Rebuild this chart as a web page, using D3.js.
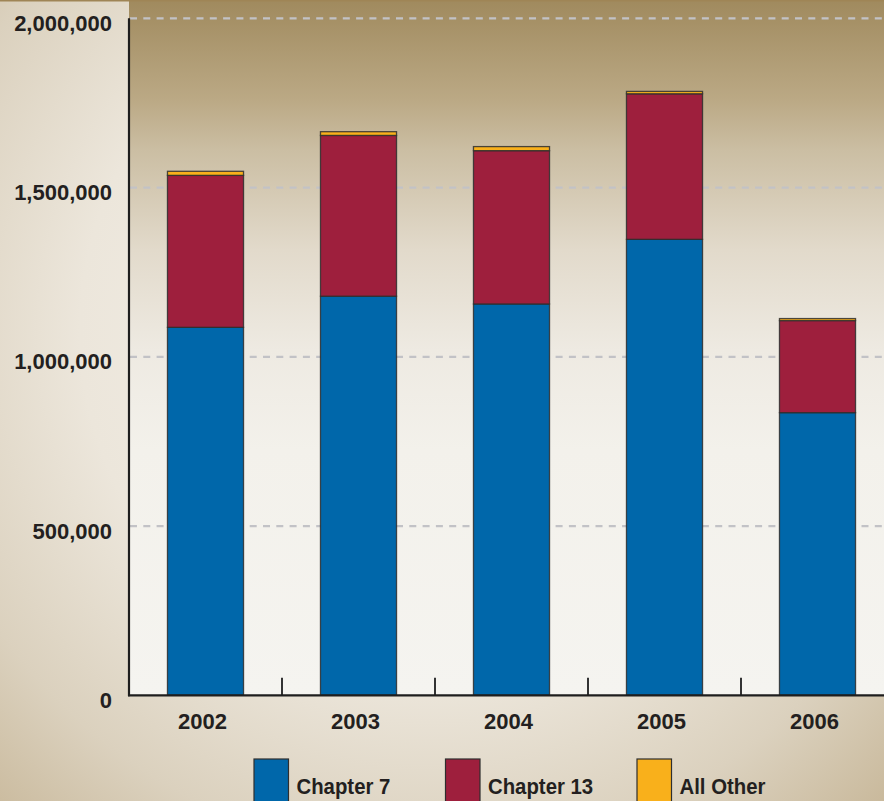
<!DOCTYPE html>
<html>
<head>
<meta charset="utf-8">
<script src="https://cdn.jsdelivr.net/npm/d3@7"></script>
<style>
  body { margin: 0; background: #d8cdb8; }
  svg { display: block; }
</style>
</head>
<body>
<svg id="chart" width="884" height="801"></svg>
<script>
// Bankruptcy filings by chapter, fiscal years 2002-2006
const years = ["2002", "2003", "2004", "2005", "2006"];
const chapter7 = [1087000, 1179000, 1156000, 1347000, 835000];
const chapter13 = [449000, 475000, 453000, 430000, 272000];
const allOther = [12000, 11000, 12000, 7000, 6000];
const yTicks = [0, 500000, 1000000, 1500000, 2000000];
const seriesNames = ["Chapter 7", "Chapter 13", "All Other"];
const seriesColors = ["#0067aa", "#9e1f3d", "#f9b01b"];

const W = 884, H = 801;
const plot = { left: 129, right: 884, top: 18.3, bottom: 695.3 };
const FONT = "'Liberation Sans', Arial, Helvetica, sans-serif";
const INK = "#231f20";

const svg = d3.select("#chart");
const defs = svg.append("defs");

// Page background: soft radial glow
const rg = defs.append("radialGradient").attr("id", "pageBg")
  .attr("gradientUnits", "userSpaceOnUse")
  .attr("cx", 430).attr("cy", 330).attr("r", 700);
[[0, "#f6f3ee"], [0.5, "#ece6db"], [0.75, "#dbd1be"], [1, "#c3b190"]]
  .forEach(([o, c]) => rg.append("stop").attr("offset", o).attr("stop-color", c));

// Plot background: brown at top fading to off-white
const lg = defs.append("linearGradient").attr("id", "plotBg")
  .attr("gradientUnits", "userSpaceOnUse")
  .attr("x1", 0).attr("y1", 0).attr("x2", 0).attr("y2", plot.bottom);
[[0, "#a08a5e"], [100, "#bba985"], [150, "#cbbea3"], [250, "#e2dacb"],
 [350, "#eeeae2"], [450, "#f3f1eb"], [695, "#f5f4f0"]]
  .forEach(([y, c]) => lg.append("stop").attr("offset", y / plot.bottom).attr("stop-color", c));

svg.append("rect").attr("width", W).attr("height", H).attr("fill", "url(#pageBg)");
svg.append("rect")
  .attr("x", plot.left).attr("y", 0)
  .attr("width", plot.right - plot.left).attr("height", plot.bottom)
  .attr("fill", "url(#plotBg)");
svg.append("rect").attr("x", 0).attr("y", 0).attr("width", W).attr("height", 1.5)
  .attr("fill", "#9f8556");

// Scales
const x = d3.scaleBand().domain(years)
  .range([plot.left, plot.left + 153 * years.length])
  .paddingInner(0.503).paddingOuter(0.2515);
const y = d3.scaleLinear().domain([0, 2000000]).range([plot.bottom, plot.top]);

// Gridlines
svg.append("g").selectAll("line")
  .data(yTicks.filter(d => d > 0))
  .join("line")
  .attr("x1", plot.left + 1).attr("x2", plot.right)
  .attr("y1", d => y(d)).attr("y2", d => y(d))
  .attr("stroke", "#c2c2c6").attr("stroke-width", 2.2)
  .attr("stroke-dasharray", "7,6.3");

// Stacked bars
const table = years.map((yr, i) => ({
  year: yr,
  "Chapter 7": chapter7[i],
  "Chapter 13": chapter13[i],
  "All Other": allOther[i]
}));
const stacked = d3.stack().keys(seriesNames)(table);
const color = d3.scaleOrdinal().domain(seriesNames).range(seriesColors);

svg.append("g").selectAll("g")
  .data(stacked)
  .join("g")
  .attr("fill", d => color(d.key))
  .selectAll("rect")
  .data(d => d)
  .join("rect")
  .attr("x", d => x(d.data.year))
  .attr("width", x.bandwidth())
  .attr("y", d => y(d[1]))
  .attr("height", d => y(d[0]) - y(d[1]))
  .attr("stroke", "#2e2e2e").attr("stroke-opacity", 0.85)
  .attr("stroke-width", 1.3);

// Axis ticks between bars
const tickXs = years.slice(1).map(yr => x(yr) - x.step() * x.paddingInner() / 2);
svg.append("g").selectAll("line")
  .data(tickXs)
  .join("line")
  .attr("x1", d => d).attr("x2", d => d)
  .attr("y1", plot.bottom - 17.5).attr("y2", plot.bottom)
  .attr("stroke", "#1e1e1e").attr("stroke-width", 1.8);

// Axis lines
svg.append("line")
  .attr("x1", plot.left).attr("x2", plot.left)
  .attr("y1", plot.top).attr("y2", plot.bottom + 1)
  .attr("stroke", "#1e1e1e").attr("stroke-width", 2.2);
svg.append("line")
  .attr("x1", plot.left - 1).attr("x2", plot.right)
  .attr("y1", plot.bottom).attr("y2", plot.bottom)
  .attr("stroke", "#1e1e1e").attr("stroke-width", 2.2);

// Y tick labels
const fmt = d3.format(",");
svg.append("g").selectAll("text")
  .data(yTicks)
  .join("text")
  .attr("x", 112).attr("y", d => y(d) + 12.5)
  .attr("text-anchor", "end")
  .attr("font-family", FONT).attr("font-weight", "bold").attr("font-size", 22)
  .attr("fill", INK)
  .text(d => fmt(d));

// Year labels
svg.append("g").selectAll("text")
  .data(years)
  .join("text")
  .attr("x", d => x(d) + x.bandwidth() / 2 - 3)
  .attr("y", 729)
  .attr("text-anchor", "middle")
  .attr("font-family", FONT).attr("font-weight", "bold").attr("font-size", 22)
  .attr("fill", INK)
  .text(d => d);

// Legend
const legend = svg.append("g").selectAll("g")
  .data(seriesNames)
  .join("g")
  .attr("transform", (d, i) => `translate(${254 + i * 191.5},0)`);
legend.append("rect")
  .attr("x", 0).attr("y", 759)
  .attr("width", 34.5).attr("height", 60)
  .attr("fill", d => color(d))
  .attr("stroke", "#2e2e2e").attr("stroke-width", 1.2);
legend.append("text")
  .attr("transform", "translate(42.5,794) scale(0.885,1)")
  .attr("font-family", FONT).attr("font-weight", "bold").attr("font-size", 23)
  .attr("fill", INK)
  .text(d => d);
</script>
</body>
</html>
